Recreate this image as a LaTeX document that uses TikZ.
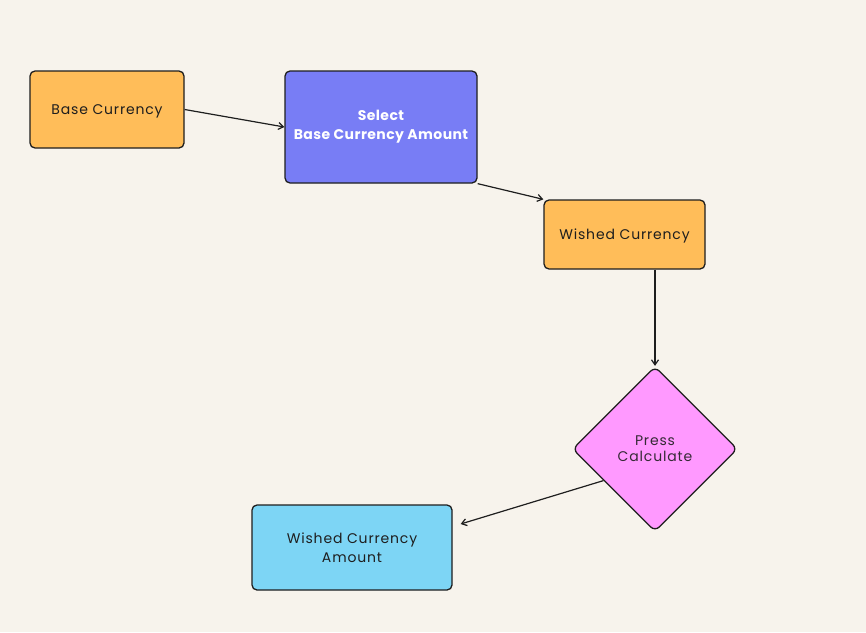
\documentclass[tikz,border=0pt]{standalone}
\usepackage{fontspec}
\setmainfont[LetterSpace=6, BoldFeatures={LetterSpace=3}]{Poppins}
\usetikzlibrary{shapes.geometric,calc,arrows.meta}
\definecolor{paper}{RGB}{247,243,236}
\definecolor{amber}{RGB}{255,189,89}
\definecolor{violet}{RGB}{120,125,245}
\definecolor{orchid}{RGB}{255,153,255}
\definecolor{sky}{RGB}{125,213,245}
\definecolor{ink}{RGB}{30,30,30}
\tikzset{
  box/.style={draw=ink, line width=1.3pt, rounded corners=5pt, align=center,
    text=ink, font=\fontsize{14}{19}\selectfont, inner sep=0pt},
  oneline/.style={text depth=0pt},
  decision/.style={diamond, aspect=1, draw=ink, line width=1.3pt, rounded corners=6pt,
    fill=orchid, align=center, text=ink!90!orchid, font=\fontsize{14}{16}\selectfont, inner sep=0pt},
  flow/.style={draw=ink, line width=1.2pt, -{Straight Barb[length=5pt,width=7pt,line width=1.2pt]}}
}
\begin{document}
\begin{tikzpicture}[x=1pt,y=-1pt]
\fill[paper] (0,0) rectangle (866,632);
\useasboundingbox (0,0) rectangle (866,632);

\node[box, oneline, fill=amber, minimum width=154pt, minimum height=77pt] (bc) at (107,109.5) {Base Currency};
\node[box, fill=violet, text=white, font=\fontsize{14}{19}\selectfont\bfseries,
      minimum width=192pt, minimum height=112pt] (sel) at (381,127) {Select\\Base Currency Amount};
\node[box, oneline, fill=amber, minimum width=161pt, minimum height=69pt] (wc) at (624.5,234.5) {Wished Currency};
\node[decision, minimum width=165pt, minimum height=165pt] (dm) at (655,449) {Press\\Calculate};
\node[box, fill=sky, minimum width=200pt, minimum height=85pt] (wca) at (352,547.5) {Wished Currency\\Amount};

\draw[flow] (bc.east) -- (sel.west);
\draw[flow] (sel.south east) -- (wc.north west);
\draw[flow] ([xshift=30.5pt]wc.south) -- (dm.north);
\draw[flow] ($(dm.west)!0.38!(dm.south)$) -- ([xshift=8pt,yshift=23.5pt]wca.east);
\end{tikzpicture}
\end{document}
